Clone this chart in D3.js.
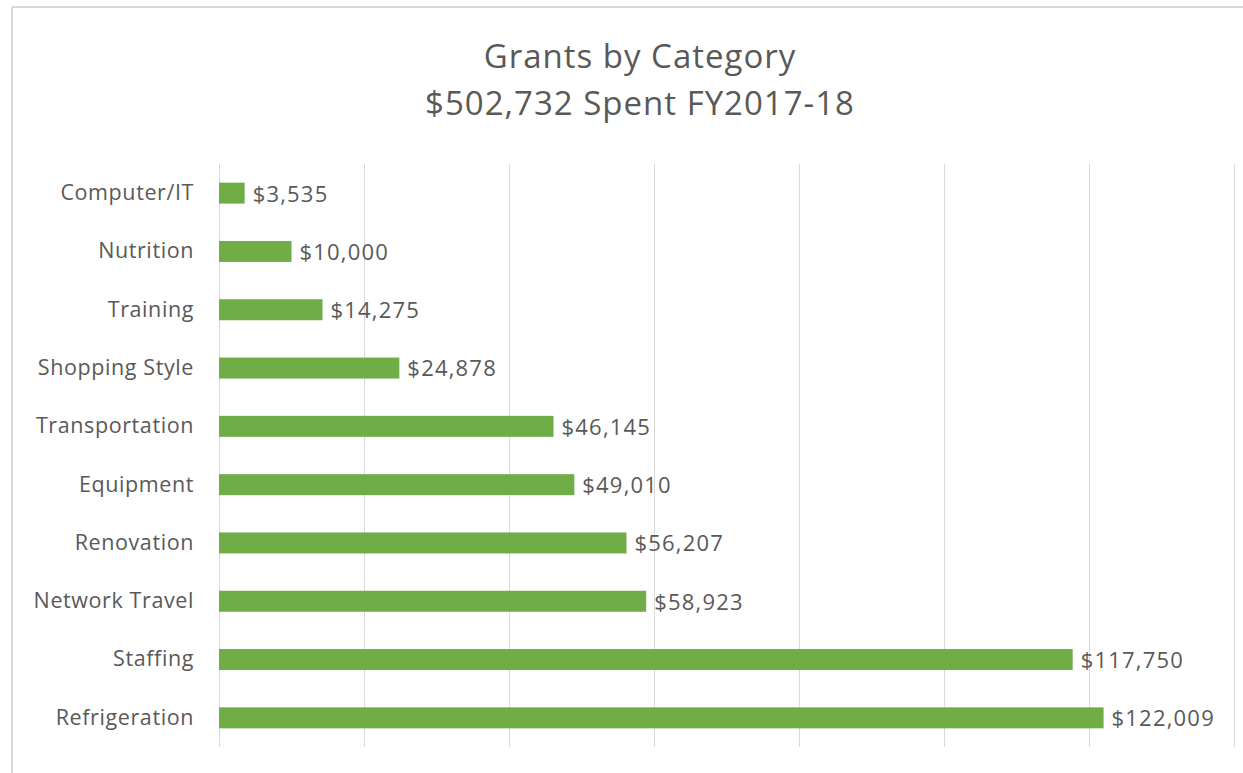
<!DOCTYPE html>
<html lang="en">

<head>
  <meta charset="UTF-8">
  <title>Grants by Category</title>
  <script src="https://d3js.org/d3.v7.min.js"></script>
  <style>
    body {
      margin: 0;
      background: #fff;
    }

    text {
      font-family: "Open Sans", Lato, sans-serif;
      fill: #595959;
    }
  </style>
</head>

<body>
  <div id="my_dataviz"></div>
  <script>

    // data
    const categories = ["Computer/IT", "Nutrition", "Training", "Shopping Style", "Transportation",
      "Equipment", "Renovation", "Network Travel", "Staffing", "Refrigeration"];
    const amounts = [3535, 10000, 14275, 24878, 46145, 49010, 56207, 58923, 117750, 122009];
    const titleLines = ["Grants by Category", "$502,732 Spent FY2017-18"];
    const xTicks = [0, 20000, 40000, 60000, 80000, 100000, 120000, 140000];

    const data = categories.map((c, i) => ({ name: c, value: amounts[i] }));

    const W = 1243, H = 773;
    const margin = { top: 164, right: 9, bottom: 25, left: 219 };

    const svg = d3.select("#my_dataviz")
      .append("svg")
      .attr("width", W)
      .attr("height", H);

    // chart frame (top and left edges only are visible)
    svg.append("line")
      .attr("x1", 12).attr("x2", W).attr("y1", 7).attr("y2", 7)
      .attr("stroke", "#d9d9d9").attr("stroke-width", 2);
    svg.append("line")
      .attr("x1", 12).attr("x2", 12).attr("y1", 7).attr("y2", H)
      .attr("stroke", "#d9d9d9").attr("stroke-width", 2);

    // title
    svg.append("g")
      .selectAll("text")
      .data(titleLines)
      .join("text")
      .attr("x", 640)
      .attr("y", (d, i) => 68 + i * 47)
      .attr("text-anchor", "middle")
      .attr("font-size", 33)
      .attr("letter-spacing", 1)
      .text(d => d);

    const x = d3.scaleLinear()
      .domain([0, 140000])
      .range([margin.left, W - margin.right]);

    const y = d3.scaleBand()
      .domain(categories)
      .range([margin.top, H - margin.bottom - 1])
      .paddingInner(0.64)
      .paddingOuter(0.32);

    // vertical gridlines
    svg.append("g")
      .selectAll("line")
      .data(xTicks)
      .join("line")
      .attr("x1", d => x(d) + 0.5)
      .attr("x2", d => x(d) + 0.5)
      .attr("y1", y.range()[0])
      .attr("y2", y.range()[1])
      .attr("stroke", "#d9d9d9")
      .attr("stroke-width", 1);

    // category axis (labels only)
    const yAxis = svg.append("g")
      .attr("transform", `translate(${margin.left},0)`)
      .call(d3.axisLeft(y).tickSize(0).tickPadding(25));
    yAxis.select(".domain").remove();
    yAxis.selectAll("text")
      .attr("font-size", 21.5)
      .attr("letter-spacing", 0.6)
      .attr("font-family", "'Open Sans', sans-serif")
      .attr("fill", "#595959");

    // bars
    svg.append("g")
      .selectAll("rect")
      .data(data)
      .join("rect")
      .attr("x", x(0))
      .attr("y", d => y(d.name))
      .attr("width", d => x(d.value) - x(0))
      .attr("height", y.bandwidth())
      .attr("fill", "#70ad47");

    // value labels
    const fmt = d3.format("$,");
    svg.append("g")
      .selectAll("text")
      .data(data)
      .join("text")
      .attr("x", d => x(d.value) + 8)
      .attr("y", d => y(d.name) + y.bandwidth() / 2)
      .attr("dy", "0.38em")
      .attr("font-size", 22)
      .attr("letter-spacing", 1.2)
      .text(d => fmt(d.value));

  </script>
</body>

</html>
